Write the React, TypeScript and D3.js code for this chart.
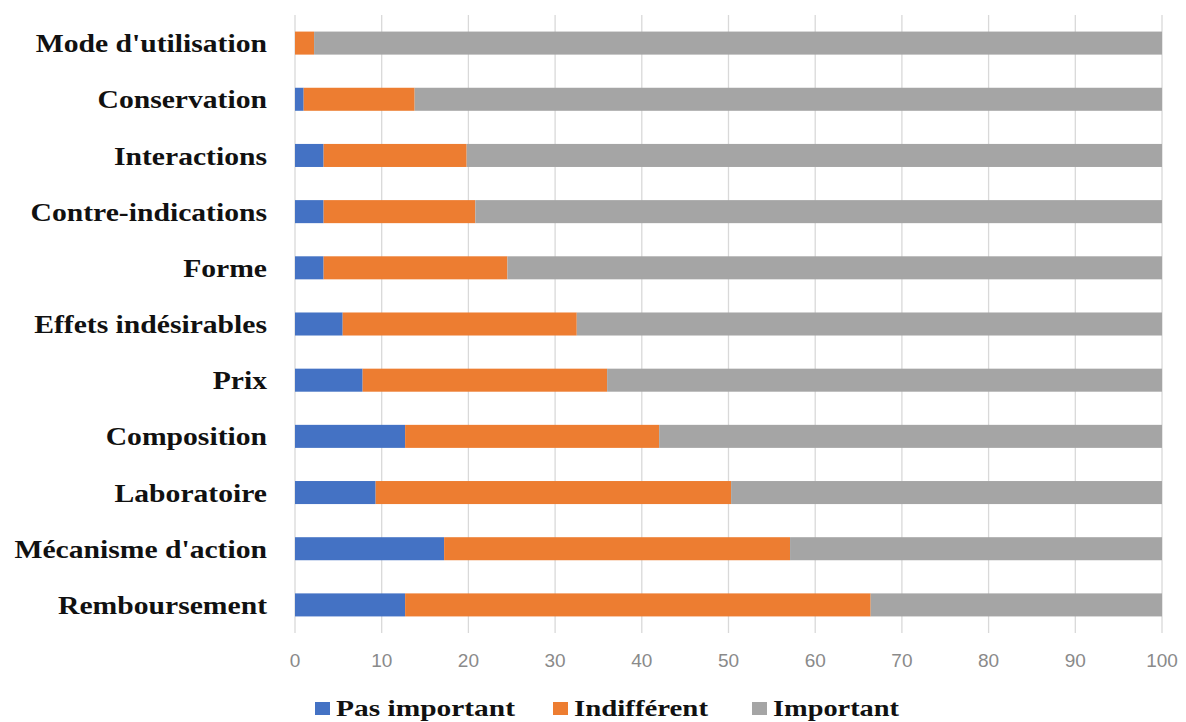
import React from "react";
import * as d3 from "d3";

const categories = [
  "Mode d'utilisation",
  "Conservation",
  "Interactions",
  "Contre-indications",
  "Forme",
  "Effets indésirables",
  "Prix",
  "Composition",
  "Laboratoire",
  "Mécanisme d'action",
  "Remboursement",
];
const pasImportant = [0, 1.0, 3.3, 3.3, 3.3, 5.5, 7.8, 12.7, 9.3, 17.2, 12.7];
const indifferent = [2.2, 12.8, 16.5, 17.5, 21.2, 27.0, 28.2, 29.3, 41.0, 39.9, 53.7];
const seriesNames = ["Pas important", "Indifférent", "Important"];
const colors = ["#4472C4", "#ED7D31", "#A5A5A5"];
const xTicks = [0, 10, 20, 30, 40, 50, 60, 70, 80, 90, 100];

const W = 1186;
const H = 722;
const margin = { left: 295, right: 24, top: 15, bottom: 89 };

export default function App() {
  const rows = categories.map((c, i) => ({
    cat: c,
    "Pas important": pasImportant[i],
    "Indifférent": indifferent[i],
    "Important": 100 - pasImportant[i] - indifferent[i],
  }));
  const stacked = d3.stack<any>().keys(seriesNames)(rows);
  const x = d3.scaleLinear().domain([0, 100]).range([margin.left, W - margin.right]);
  const y = d3
    .scaleBand()
    .domain(categories)
    .range([margin.top, H - margin.bottom])
    .paddingInner(0.59)
    .paddingOuter(0.295);
  const plotTop = margin.top;
  const plotBottom = H - margin.bottom;

  const legendItems = [
    { x: 315, name: seriesNames[0], len: 179 },
    { x: 553, name: seriesNames[1], len: 134 },
    { x: 752, name: seriesNames[2], len: 126 },
  ];

  return (
    <svg width={W} height={H} style={{ position: "absolute", left: 0, top: 0, background: "#fff" }}>
      <rect width={W} height={H} fill="#fff" />
      {xTicks.map((t) => (
        <line key={t} x1={x(t)} x2={x(t)} y1={plotTop} y2={plotBottom} stroke="#d9d9d9" strokeWidth={1.3} />
      ))}
      {stacked.map((s, si) => (
        <g key={s.key} fill={colors[si]}>
          {s.map((d, i) => (
            <rect
              key={i}
              x={x(d[0])}
              y={y(categories[i])}
              width={Math.max(0, x(d[1]) - x(d[0]))}
              height={y.bandwidth()}
            />
          ))}
        </g>
      ))}
      {categories.map((c) => (
        <text
          key={c}
          transform={`translate(267,${(y(c) as number) + y.bandwidth() / 2}) scale(1.14,1)`}
          dy="0.35em"
          textAnchor="end"
          fontFamily="'Liberation Serif', 'Times New Roman', serif"
          fontWeight="bold"
          fontSize={26}
          fill="#111"
        >
          {c}
        </text>
      ))}
      {xTicks.map((t) => (
        <text
          key={t}
          x={x(t)}
          y={660}
          dy="0.35em"
          textAnchor="middle"
          fontFamily="'Liberation Sans', Arial, sans-serif"
          fontSize={19}
          fill="#8a8a8a"
        >
          {t}
        </text>
      ))}
      {legendItems.map((l, i) => (
        <g key={l.name}>
          <rect x={l.x} y={702} width={15} height={13} fill={colors[i]} />
          <text
            x={l.x + 21}
            y={716}
            textLength={l.len}
            lengthAdjust="spacingAndGlyphs"
            fontFamily="'Liberation Serif', 'Times New Roman', serif"
            fontWeight="bold"
            fontSize={24}
            fill="#111"
          >
            {l.name}
          </text>
        </g>
      ))}
    </svg>
  );
}
